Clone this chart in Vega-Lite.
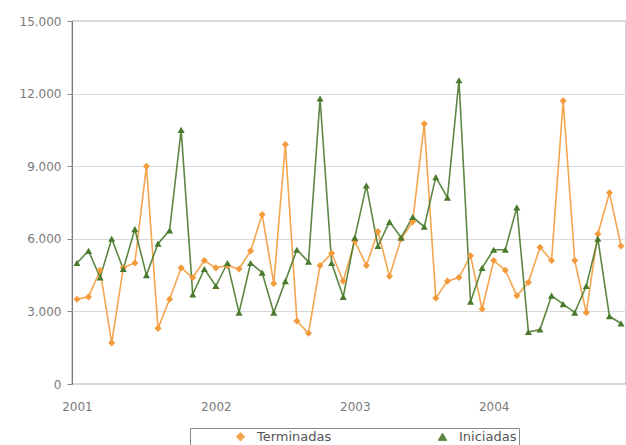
{
  "$schema": "https://vega.github.io/schema/vega-lite/v6.json",
  "width": 554,
  "height": 363,
  "autosize": "none",
  "padding": {"left": 72, "top": 21, "right": 0, "bottom": 61},
  "background": "white",
  "config": {
    "font": "DejaVu Sans",
    "view": {"stroke": "#6a6a6a", "strokeWidth": 1.2}
  },
  "data": {
    "values": [
      {"mes":"2001-01","serie":"Terminadas","valor":3500},{"mes":"2001-02","serie":"Terminadas","valor":3600},{"mes":"2001-03","serie":"Terminadas","valor":4700},{"mes":"2001-04","serie":"Terminadas","valor":1700},{"mes":"2001-05","serie":"Terminadas","valor":4800},{"mes":"2001-06","serie":"Terminadas","valor":5000},{"mes":"2001-07","serie":"Terminadas","valor":9000},{"mes":"2001-08","serie":"Terminadas","valor":2300},{"mes":"2001-09","serie":"Terminadas","valor":3500},{"mes":"2001-10","serie":"Terminadas","valor":4800},{"mes":"2001-11","serie":"Terminadas","valor":4400},{"mes":"2001-12","serie":"Terminadas","valor":5100},
      {"mes":"2002-01","serie":"Terminadas","valor":4800},{"mes":"2002-02","serie":"Terminadas","valor":4900},{"mes":"2002-03","serie":"Terminadas","valor":4750},{"mes":"2002-04","serie":"Terminadas","valor":5500},{"mes":"2002-05","serie":"Terminadas","valor":7000},{"mes":"2002-06","serie":"Terminadas","valor":4150},{"mes":"2002-07","serie":"Terminadas","valor":9900},{"mes":"2002-08","serie":"Terminadas","valor":2600},{"mes":"2002-09","serie":"Terminadas","valor":2100},{"mes":"2002-10","serie":"Terminadas","valor":4900},{"mes":"2002-11","serie":"Terminadas","valor":5400},{"mes":"2002-12","serie":"Terminadas","valor":4250},
      {"mes":"2003-01","serie":"Terminadas","valor":5900},{"mes":"2003-02","serie":"Terminadas","valor":4900},{"mes":"2003-03","serie":"Terminadas","valor":6300},{"mes":"2003-04","serie":"Terminadas","valor":4450},{"mes":"2003-05","serie":"Terminadas","valor":6000},{"mes":"2003-06","serie":"Terminadas","valor":6700},{"mes":"2003-07","serie":"Terminadas","valor":10750},{"mes":"2003-08","serie":"Terminadas","valor":3550},{"mes":"2003-09","serie":"Terminadas","valor":4250},{"mes":"2003-10","serie":"Terminadas","valor":4400},{"mes":"2003-11","serie":"Terminadas","valor":5300},{"mes":"2003-12","serie":"Terminadas","valor":3100},
      {"mes":"2004-01","serie":"Terminadas","valor":5100},{"mes":"2004-02","serie":"Terminadas","valor":4700},{"mes":"2004-03","serie":"Terminadas","valor":3650},{"mes":"2004-04","serie":"Terminadas","valor":4200},{"mes":"2004-05","serie":"Terminadas","valor":5650},{"mes":"2004-06","serie":"Terminadas","valor":5100},{"mes":"2004-07","serie":"Terminadas","valor":11700},{"mes":"2004-08","serie":"Terminadas","valor":5100},{"mes":"2004-09","serie":"Terminadas","valor":2950},{"mes":"2004-10","serie":"Terminadas","valor":6200},{"mes":"2004-11","serie":"Terminadas","valor":7900},{"mes":"2004-12","serie":"Terminadas","valor":5700},
      {"mes":"2001-01","serie":"Iniciadas","valor":5000},{"mes":"2001-02","serie":"Iniciadas","valor":5500},{"mes":"2001-03","serie":"Iniciadas","valor":4400},{"mes":"2001-04","serie":"Iniciadas","valor":6000},{"mes":"2001-05","serie":"Iniciadas","valor":4750},{"mes":"2001-06","serie":"Iniciadas","valor":6400},{"mes":"2001-07","serie":"Iniciadas","valor":4500},{"mes":"2001-08","serie":"Iniciadas","valor":5800},{"mes":"2001-09","serie":"Iniciadas","valor":6350},{"mes":"2001-10","serie":"Iniciadas","valor":10500},{"mes":"2001-11","serie":"Iniciadas","valor":3700},{"mes":"2001-12","serie":"Iniciadas","valor":4750},
      {"mes":"2002-01","serie":"Iniciadas","valor":4050},{"mes":"2002-02","serie":"Iniciadas","valor":5000},{"mes":"2002-03","serie":"Iniciadas","valor":2950},{"mes":"2002-04","serie":"Iniciadas","valor":5000},{"mes":"2002-05","serie":"Iniciadas","valor":4600},{"mes":"2002-06","serie":"Iniciadas","valor":2950},{"mes":"2002-07","serie":"Iniciadas","valor":4250},{"mes":"2002-08","serie":"Iniciadas","valor":5550},{"mes":"2002-09","serie":"Iniciadas","valor":5050},{"mes":"2002-10","serie":"Iniciadas","valor":11800},{"mes":"2002-11","serie":"Iniciadas","valor":5000},{"mes":"2002-12","serie":"Iniciadas","valor":3600},
      {"mes":"2003-01","serie":"Iniciadas","valor":6050},{"mes":"2003-02","serie":"Iniciadas","valor":8200},{"mes":"2003-03","serie":"Iniciadas","valor":5700},{"mes":"2003-04","serie":"Iniciadas","valor":6700},{"mes":"2003-05","serie":"Iniciadas","valor":6050},{"mes":"2003-06","serie":"Iniciadas","valor":6900},{"mes":"2003-07","serie":"Iniciadas","valor":6500},{"mes":"2003-08","serie":"Iniciadas","valor":8550},{"mes":"2003-09","serie":"Iniciadas","valor":7700},{"mes":"2003-10","serie":"Iniciadas","valor":12550},{"mes":"2003-11","serie":"Iniciadas","valor":3400},{"mes":"2003-12","serie":"Iniciadas","valor":4800},
      {"mes":"2004-01","serie":"Iniciadas","valor":5550},{"mes":"2004-02","serie":"Iniciadas","valor":5550},{"mes":"2004-03","serie":"Iniciadas","valor":7300},{"mes":"2004-04","serie":"Iniciadas","valor":2150},{"mes":"2004-05","serie":"Iniciadas","valor":2250},{"mes":"2004-06","serie":"Iniciadas","valor":3650},{"mes":"2004-07","serie":"Iniciadas","valor":3300},{"mes":"2004-08","serie":"Iniciadas","valor":2950},{"mes":"2004-09","serie":"Iniciadas","valor":4050},{"mes":"2004-10","serie":"Iniciadas","valor":6000},{"mes":"2004-11","serie":"Iniciadas","valor":2800},{"mes":"2004-12","serie":"Iniciadas","valor":2500}
    ]
  },
  "encoding": {
    "x": {
      "field": "mes", "type": "ordinal", "sort": null,
      "scale": {"type": "point", "padding": 0.43},
      "axis": {
        "title": null, "labelAngle": 0, "ticks": false, "domain": false, "grid": false,
        "labelExpr": "slice(datum.label, 5) == '01' ? slice(datum.label, 0, 4) : ''",
        "labelFont": "DejaVu Sans", "labelFontSize": 12, "labelColor": "#7a7a7a", "labelPadding": 17
      }
    },
    "y": {
      "field": "valor", "type": "quantitative",
      "scale": {"domain": [0, 15000], "nice": false},
      "axis": {
        "title": null, "values": [0, 3000, 6000, 9000, 12000, 15000],
        "labelExpr": "replace(format(datum.value, ','), ',', '.')",
        "labelFont": "DejaVu Sans", "labelFontSize": 12, "labelColor": "#7a7a7a", "labelPadding": 6,
        "domain": false, "ticks": true, "tickSize": 5, "tickColor": "#888",
        "gridColor": "#d9d9d9", "gridWidth": 1
      }
    },
    "color": {
      "field": "serie", "type": "nominal",
      "scale": {"domain": ["Terminadas", "Iniciadas"], "range": ["#f39b3c", "#4a7a2e"]},
      "legend": {
        "title": null, "orient": "none", "legendX": 118, "legendY": 407,
        "direction": "horizontal", "columns": 2, "columnPadding": 62,
        "padding": 2, "strokeColor": "#8a8a8a", "fillColor": "white",
        "labelFont": "DejaVu Sans", "labelFontSize": 13, "labelColor": "#555", "labelOffset": 10,
        "symbolSize": 70, "symbolOffset": 42, "symbolStrokeWidth": 1
      }
    }
  },
  "layer": [
    {
      "mark": {"type": "line", "strokeWidth": 1.6, "opacity": 0.9}
    },
    {
      "mark": {"type": "point", "filled": true, "size": 50, "opacity": 1},
      "encoding": {
        "shape": {
          "field": "serie", "type": "nominal",
          "scale": {"domain": ["Terminadas", "Iniciadas"], "range": ["diamond", "triangle-up"]},
          "legend": {
            "title": null, "orient": "none", "legendX": 118, "legendY": 407,
            "direction": "horizontal", "columns": 2, "columnPadding": 62,
            "padding": 2, "strokeColor": "#8a8a8a", "fillColor": "white",
            "labelFont": "DejaVu Sans", "labelFontSize": 13, "labelColor": "#555", "labelOffset": 10,
            "symbolSize": 70, "symbolOffset": 42, "symbolStrokeWidth": 1
          }
        }
      }
    }
  ]
}
